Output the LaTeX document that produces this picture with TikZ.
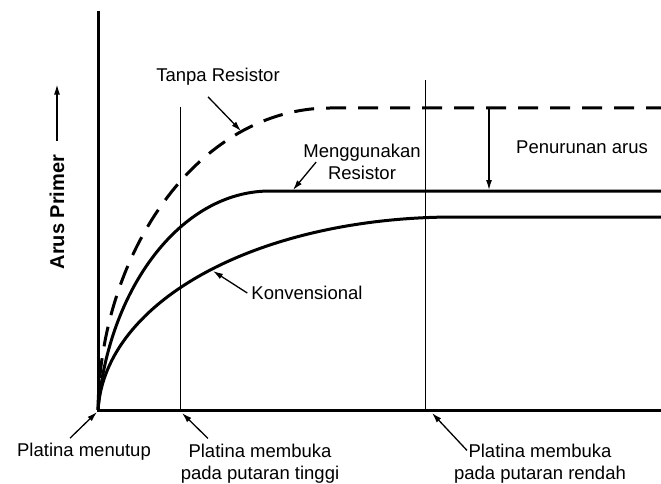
\documentclass[tikz,border=0pt]{standalone}
\usepackage{fontspec}
\setmainfont{Liberation Sans}
\usepackage{tikz}
\usetikzlibrary{calc}
\usetikzlibrary{arrows.meta}
\tikzset{>={Latex[width=6pt,length=10pt]}}

\begin{document}
\begin{tikzpicture}[
    x = 1pt, y = -1pt,
    axis/.style = {line width=3pt},
    guide/.style = {line width=0.8pt},
    curve/.style = {line width=3pt, line join=round},
    dashcurve/.style = {curve, dash pattern=on 20pt off 12pt},
    lbl/.style = {font=\fontsize{18.5}{22.5}\selectfont, align=center, inner sep=0pt},
    pointer/.style = {->, line width=1.3pt}
  ]
  \useasboundingbox (0,0) rectangle (661,484);

  \coordinate (O) at (98,410);
  \draw[axis] (98,11) |- (661,410);
  \foreach \x/\t [count=\j] in {180/107,425/80}
    \draw[guide] (\x,\t) -- (\x,410) coordinate (G\j);

  \draw[dashcurve] (O) .. controls (100,250) and (200,108) .. (330,108) -- (661,108);
  \draw[curve] (O) .. controls (108,290) and (180,191) .. (270,191) -- (661,191);
  \draw[curve] (O) .. controls (105,300) and (260,217) .. (455,217) -- (661,217);

  \node[lbl, font=\fontsize{20}{24}\selectfont\bfseries, rotate=90] (arus) at (57,212) {Arus Primer};
  \draw[pointer] ($(arus.east)+(0,-14)$) -- ++(0,-56);

  \node[lbl] (tanpa) at (218,77) {Tanpa Resistor};
  \node[lbl] (pakai) at (362,162) {Menggunakan\\Resistor};
  \node[lbl] (konv) at (307,293) {Konvensional};
  \node[lbl] (turun) at (582,147) {Penurunan arus};
  \node[lbl] (tutup) at (84,452) {Platina menutup};
  \node[lbl] (tinggi) at (260,463.5) {Platina membuka\\pada putaran tinggi};
  \node[lbl] (rendah) at (540,463.5) {Platina membuka\\pada putaran rendah};

  \coordinate (tanpaT) at (241,131);
  \coordinate (pakaiT) at (293,190);
  \coordinate (konvT) at (213,271);
  \coordinate (turunA) at (489,108);
  \coordinate (turunB) at (489,190);

  \draw[pointer] ($(tanpa.south)+(-10,11)$) -- (tanpaT);
  \draw[pointer] ($(pakai.west)+(13,0)$) -- (pakaiT);
  \draw[pointer] ($(konv.west)+(-4,0)$) -- (konvT);
  \draw[pointer] (turunA) -- (turunB);
  \draw[pointer] ($(tutup.north)+(-14,-5)$) -- ($(O)+(-1,2)$);
  \draw[pointer] ($(tinggi.north)+(-52,-5)$) -- ($(G1)+(2,3)$);
  \draw[pointer] ($(rendah.north)+(-73,7)$) -- ($(G2)+(7,3)$);
\end{tikzpicture}
\end{document}
